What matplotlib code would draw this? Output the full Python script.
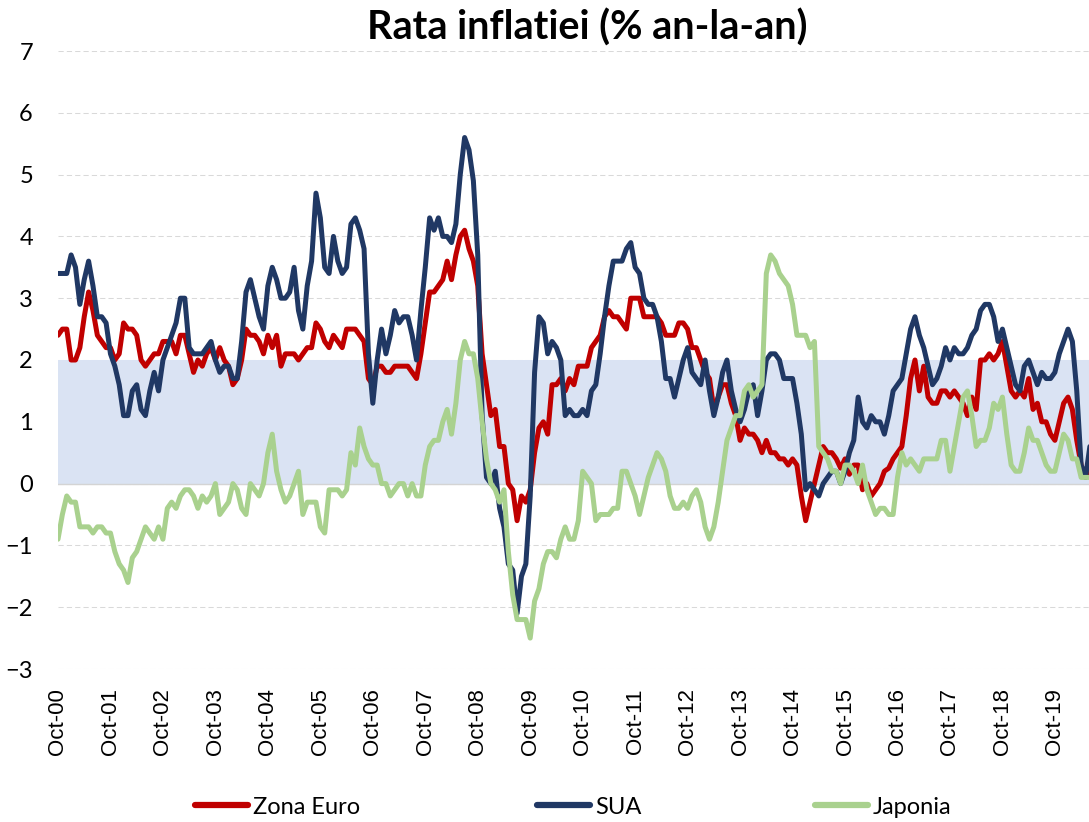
import matplotlib.pyplot as plt
from matplotlib.lines import Line2D

plt.rcParams["font.family"] = ["Lato", "DejaVu Sans"]

# monthly y/y inflation, Oct 2000 .. Jun 2020
zona_euro = [
    2.4, 2.5, 2.5,
    2.0, 2.0, 2.2, 2.7, 3.1, 2.8, 2.4, 2.3, 2.2, 2.2, 2.0, 2.1,
    2.6, 2.5, 2.5, 2.4, 2.0, 1.9, 2.0, 2.1, 2.1, 2.3, 2.3, 2.3,
    2.1, 2.4, 2.4, 2.1, 1.8, 2.0, 1.9, 2.1, 2.2, 2.0, 2.2, 2.0,
    1.9, 1.6, 1.7, 2.0, 2.5, 2.4, 2.4, 2.3, 2.1, 2.4, 2.2, 2.4,
    1.9, 2.1, 2.1, 2.1, 2.0, 2.1, 2.2, 2.2, 2.6, 2.5, 2.3, 2.2,
    2.4, 2.3, 2.2, 2.5, 2.5, 2.5, 2.4, 2.3, 1.7, 1.6, 1.9, 1.9,
    1.8, 1.8, 1.9, 1.9, 1.9, 1.9, 1.8, 1.7, 2.1, 2.6, 3.1, 3.1,
    3.2, 3.3, 3.6, 3.3, 3.7, 4.0, 4.1, 3.8, 3.6, 3.2, 2.1, 1.6,
    1.1, 1.2, 0.6, 0.6, 0.0, -0.1, -0.6, -0.2, -0.3, -0.1, 0.5, 0.9,
    1.0, 0.8, 1.6, 1.6, 1.7, 1.5, 1.7, 1.6, 1.9, 1.9, 1.9, 2.2,
    2.3, 2.4, 2.7, 2.8, 2.7, 2.7, 2.6, 2.5, 3.0, 3.0, 3.0, 2.7,
    2.7, 2.7, 2.7, 2.6, 2.4, 2.4, 2.4, 2.6, 2.6, 2.5, 2.2, 2.2,
    2.0, 1.8, 1.7, 1.2, 1.4, 1.6, 1.6, 1.3, 1.1, 0.7, 0.9, 0.8,
    0.8, 0.7, 0.5, 0.7, 0.5, 0.5, 0.4, 0.4, 0.3, 0.4, 0.3, -0.2,
    -0.6, -0.3, 0.0, 0.3, 0.6, 0.5, 0.5, 0.4, 0.25, 0.4, 0.15, 0.3,
    0.3, -0.1, 0.0, -0.2, -0.1, 0.0, 0.2, 0.25, 0.4, 0.5, 0.6, 1.1,
    1.7, 2.0, 1.5, 1.9, 1.4, 1.3, 1.3, 1.5, 1.5, 1.4, 1.5, 1.4,
    1.3, 1.1, 1.4, 1.2, 2.0, 2.0, 2.1, 2.0, 2.1, 2.3, 1.9, 1.5,
    1.4, 1.5, 1.4, 1.7, 1.2, 1.3, 1.0, 1.0, 0.8, 0.7, 1.0, 1.3,
    1.4, 1.2, 0.7, 0.3, 0.1, 0.3,
]

sua = [
    3.4, 3.4, 3.4,
    3.7, 3.5, 2.9, 3.3, 3.6, 3.2, 2.7, 2.7, 2.6, 2.1, 1.9, 1.6,
    1.1, 1.1, 1.5, 1.6, 1.2, 1.1, 1.5, 1.8, 1.5, 2.0, 2.2, 2.4,
    2.6, 3.0, 3.0, 2.2, 2.1, 2.1, 2.1, 2.2, 2.3, 2.0, 1.8, 1.9,
    1.9, 1.7, 1.7, 2.3, 3.1, 3.3, 3.0, 2.7, 2.5, 3.2, 3.5, 3.3,
    3.0, 3.0, 3.1, 3.5, 2.8, 2.5, 3.2, 3.6, 4.7, 4.3, 3.5, 3.4,
    4.0, 3.6, 3.4, 3.5, 4.2, 4.3, 4.1, 3.8, 2.1, 1.3, 2.0, 2.5,
    2.1, 2.4, 2.8, 2.6, 2.7, 2.7, 2.4, 2.0, 2.8, 3.5, 4.3, 4.1,
    4.3, 4.0, 4.0, 3.9, 4.2, 5.0, 5.6, 5.4, 4.9, 3.7, 1.1, 0.1,
    0.0, 0.2, -0.4, -0.7, -1.3, -1.4, -2.1, -1.5, -1.3, -0.2, 1.8, 2.7,
    2.6, 2.1, 2.3, 2.2, 2.0, 1.1, 1.2, 1.1, 1.1, 1.2, 1.1, 1.5,
    1.6, 2.1, 2.7, 3.2, 3.6, 3.6, 3.6, 3.8, 3.9, 3.5, 3.4, 3.0,
    2.9, 2.9, 2.7, 2.3, 1.7, 1.7, 1.4, 1.7, 2.0, 2.2, 1.8, 1.7,
    1.6, 2.0, 1.5, 1.1, 1.4, 1.8, 2.0, 1.5, 1.2, 1.0, 1.2, 1.5,
    1.6, 1.1, 1.5, 2.0, 2.1, 2.1, 2.0, 1.7, 1.7, 1.7, 1.3, 0.8,
    -0.1, 0.0, -0.1, -0.2, 0.0, 0.1, 0.2, 0.2, 0.0, 0.2, 0.5, 0.7,
    1.4, 1.0, 0.9, 1.1, 1.0, 1.0, 0.8, 1.1, 1.5, 1.6, 1.7, 2.1,
    2.5, 2.7, 2.4, 2.2, 1.9, 1.6, 1.7, 1.9, 2.2, 2.0, 2.2, 2.1,
    2.1, 2.2, 2.4, 2.5, 2.8, 2.9, 2.9, 2.7, 2.3, 2.5, 2.2, 1.9,
    1.6, 1.5, 1.9, 2.0, 1.8, 1.6, 1.8, 1.7, 1.7, 1.8, 2.1, 2.3,
    2.5, 2.3, 1.5, 0.3, 0.1, 0.6,
]

japonia = [
    -0.9, -0.5, -0.2,
    -0.3, -0.3, -0.7, -0.7, -0.7, -0.8, -0.7, -0.7, -0.8, -0.8, -1.1, -1.3,
    -1.4, -1.6, -1.2, -1.1, -0.9, -0.7, -0.8, -0.9, -0.7, -0.9, -0.4, -0.3,
    -0.4, -0.2, -0.1, -0.1, -0.2, -0.4, -0.2, -0.3, -0.2, 0.0, -0.5, -0.4,
    -0.3, 0.0, -0.1, -0.4, -0.5, 0.0, -0.1, -0.2, 0.0, 0.5, 0.8, 0.2,
    -0.1, -0.3, -0.2, 0.0, 0.2, -0.5, -0.3, -0.3, -0.3, -0.7, -0.8, -0.1,
    -0.1, -0.1, -0.2, -0.1, 0.5, 0.3, 0.9, 0.6, 0.4, 0.3, 0.3, 0.0,
    0.0, -0.2, -0.1, 0.0, 0.0, -0.2, 0.0, -0.2, -0.2, 0.3, 0.6, 0.7,
    0.7, 1.0, 1.2, 0.8, 1.3, 2.0, 2.3, 2.1, 2.1, 1.7, 1.0, 0.4,
    0.0, -0.1, -0.3, -0.1, -1.1, -1.8, -2.2, -2.2, -2.2, -2.5, -1.9, -1.7,
    -1.3, -1.1, -1.1, -1.2, -0.9, -0.7, -0.9, -0.9, -0.6, 0.2, 0.1, 0.0,
    -0.6, -0.5, -0.5, -0.5, -0.4, -0.4, 0.2, 0.2, 0.0, -0.2, -0.5, -0.2,
    0.1, 0.3, 0.5, 0.4, 0.2, -0.2, -0.4, -0.4, -0.3, -0.4, -0.2, -0.1,
    -0.3, -0.7, -0.9, -0.7, -0.3, 0.2, 0.7, 0.9, 1.1, 1.1, 1.5, 1.6,
    1.4, 1.5, 1.6, 3.4, 3.7, 3.6, 3.4, 3.3, 3.2, 2.9, 2.4, 2.4,
    2.4, 2.2, 2.3, 0.6, 0.5, 0.4, 0.2, 0.2, 0.0, 0.3, 0.3, 0.2,
    0.0, 0.3, -0.1, -0.3, -0.5, -0.4, -0.4, -0.5, -0.5, 0.1, 0.5, 0.3,
    0.4, 0.3, 0.2, 0.4, 0.4, 0.4, 0.4, 0.7, 0.7, 0.2, 0.6, 1.0,
    1.4, 1.5, 1.1, 0.6, 0.7, 0.7, 0.9, 1.3, 1.2, 1.4, 0.8, 0.3,
    0.2, 0.2, 0.5, 0.9, 0.7, 0.7, 0.5, 0.3, 0.2, 0.2, 0.5, 0.8,
    0.7, 0.4, 0.4, 0.1, 0.1, 0.1,
]

tick_labels = [
    "Oct-00", "Oct-01", "Oct-02", "Oct-03", "Oct-04", "Oct-05", "Oct-06",
    "Oct-07", "Oct-08", "Oct-09", "Oct-10", "Oct-11", "Oct-12", "Oct-13",
    "Oct-14", "Oct-15", "Oct-16", "Oct-17", "Oct-18", "Oct-19",
]
series_names = ["Zona Euro", "SUA", "Japonia"]
target_band = (0, 2)

RED = "#C00000"
NAVY = "#203864"
GREEN = "#A9D18E"

months = list(range(len(sua)))
tick_pos = months[::12][: len(tick_labels)]

fig = plt.figure(figsize=(10.89, 8.22), dpi=100)
ax = fig.add_axes([58 / 1089, 1 - 669 / 822, 1 - 58 / 1089, 618 / 822])

ax.axhspan(*target_band, color="#DAE3F3", lw=0, zorder=1)
for v in range(-3, 8):
    ax.axhline(v, color="#D9D9D9", lw=0.75, ls=(0, (5, 3)), zorder=0.5)
ax.axhline(0, color="#D4D4D4", lw=1.0, zorder=1.5)

for vals, color in zip([zona_euro, sua, japonia], [RED, NAVY, GREEN]):
    ax.plot(months, vals, color=color, lw=3.6, solid_joinstyle="round",
            solid_capstyle="round", zorder=3)

ax.set_xlim(0, 235.8)
ax.set_ylim(-3, 7)
ax.set_yticks(range(-3, 8))
ax.set_xticks(tick_pos)
ax.set_xticklabels(tick_labels, rotation=90, fontfamily="Liberation Sans", fontsize=16)
ax.tick_params(axis="y", length=0, pad=18, labelsize=17)
ax.tick_params(axis="x", length=0, pad=14)
for s in ax.spines.values():
    s.set_visible(False)

fig.text(587 / 1089, 1 - 28 / 822, "Rata inflatiei (% an-la-an)",
         ha="center", va="center", fontsize=28.5, fontweight="bold")

# legend items sit at uneven spacing, like the original
for x_px, name, color in zip([195, 537, 815], series_names, [RED, NAVY, GREEN]):
    fig.legend(handles=[Line2D([], [], color=color, lw=4.5, solid_capstyle="round")],
               labels=[name], loc="center left",
               bbox_to_anchor=(x_px / 1089, 1 - 807 / 822),
               frameon=False, fontsize=17, handlelength=2.25,
               handletextpad=0.2, borderpad=0, borderaxespad=0)

fig.savefig("out.png", dpi=100)
